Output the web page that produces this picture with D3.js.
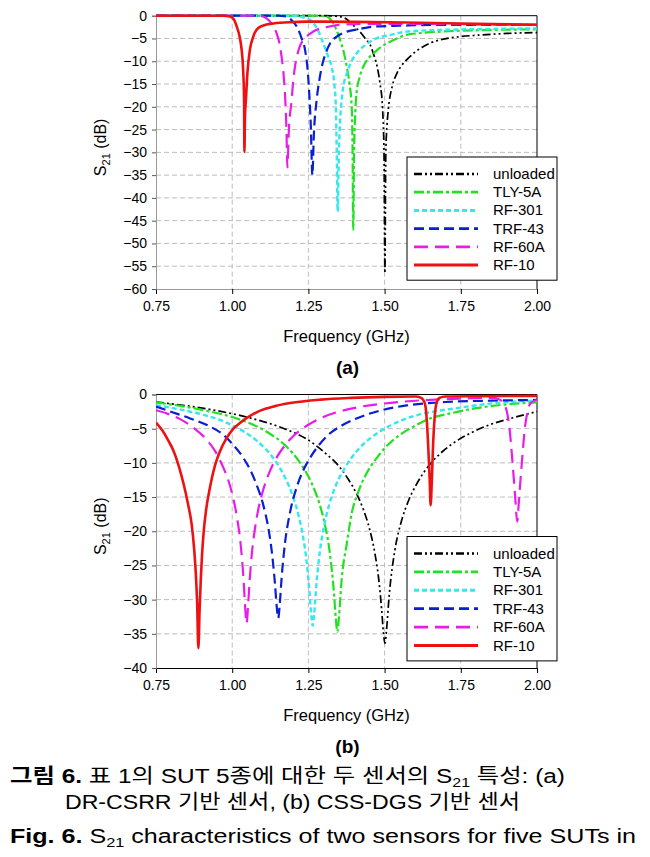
<!DOCTYPE html>
<html>
<head>
<meta charset="utf-8">
<script src="https://cdn.jsdelivr.net/npm/d3@7"></script>
<style>
  html, body { margin: 0; padding: 0; background: #fff; }
  svg { display: block; }
  text { font-family: "Liberation Sans", Arial, "Noto Sans CJK KR", sans-serif; }
</style>
</head>
<body>
<svg id="chart" width="650" height="857"></svg>
<script>
// ---------------- DATA ----------------
const seriesNames = ["unloaded", "TLY-5A", "RF-301", "TRF-43", "RF-60A", "RF-10"];
const xTicks = [0.75, 1.00, 1.25, 1.50, 1.75, 2.00];
const yTicksA = [0, -5, -10, -15, -20, -25, -30, -35, -40, -45, -50, -55, -60];
const yTicksB = [0, -5, -10, -15, -20, -25, -30, -35, -40];

// (a) DR-CSRR sensor: [frequency GHz, S21 dB]
const unloadedA = [[0.75,0],[1.30,0],[1.354,-0.2],[1.38,-1.0],[1.40,-2.3],[1.419,-3.5],[1.44,-5.3],[1.452,-6.3],[1.463,-8.3],[1.475,-11],[1.485,-14.9],[1.493,-20],[1.498,-30],[1.501,-56.5],[1.504,-30],[1.508,-24],[1.512,-20.7],[1.525,-15.5],[1.540,-12.7],[1.555,-11],[1.572,-9.7],[1.60,-8.0],[1.626,-6.8],[1.65,-6.0],[1.682,-5.3],[1.747,-4.6],[1.80,-4.3],[1.90,-3.9],[2.0,-3.7]];
const tlyA = [[0.75,0],[1.28,0],[1.31,-0.2],[1.33,-1.5],[1.354,-5.3],[1.366,-8],[1.376,-11.2],[1.385,-15],[1.392,-20],[1.395,-30],[1.397,-47],[1.400,-30],[1.404,-21],[1.408,-17],[1.418,-13.5],[1.43,-11.2],[1.445,-9.5],[1.463,-8.3],[1.485,-7],[1.507,-6.1],[1.54,-5],[1.572,-4.2],[1.62,-3.8],[1.682,-3.5],[1.8,-3.2],[2.0,-3.0]];
const rf301A = [[0.75,0],[1.20,0],[1.23,-0.3],[1.255,-0.9],[1.28,-3],[1.299,-6.1],[1.315,-9],[1.326,-11.2],[1.335,-15],[1.34,-20],[1.343,-30],[1.346,-43],[1.350,-30],[1.355,-22],[1.359,-18.5],[1.366,-15],[1.376,-12.7],[1.39,-10.2],[1.408,-8.3],[1.435,-6.5],[1.463,-5.3],[1.52,-4.2],[1.572,-3.5],[1.7,-3.1],[2.0,-2.8]];
const trf43A = [[0.75,0],[1.15,0],[1.179,-0.2],[1.195,-1],[1.212,-2.4],[1.228,-5],[1.239,-7.5],[1.25,-14.1],[1.258,-24.4],[1.263,-35],[1.268,-26],[1.277,-18.5],[1.285,-14.5],[1.294,-11.2],[1.307,-8.2],[1.321,-6.1],[1.345,-4.5],[1.376,-3.5],[1.42,-2.9],[1.463,-2.4],[1.55,-2.2],[1.682,-2.0],[2.0,-2.0]];
const rf60A = [[0.75,0],[1.09,0],[1.113,-0.6],[1.13,-1.8],[1.146,-3.9],[1.155,-6],[1.162,-9],[1.168,-12.5],[1.173,-17],[1.178,-25],[1.181,-33.3],[1.186,-25],[1.195,-18.5],[1.2,-14.5],[1.206,-11.2],[1.218,-7.5],[1.233,-5.3],[1.255,-4],[1.277,-3.1],[1.31,-2.5],[1.354,-2.0],[1.45,-1.8],[1.572,-1.8],[1.8,-1.9],[2.0,-2.0]];
const rf10A = [[0.75,0],[0.97,0],[0.993,-0.2],[1.005,-0.8],[1.015,-2.4],[1.024,-4.5],[1.031,-7.5],[1.036,-12],[1.039,-18.5],[1.040,-29.9],[1.042,-22],[1.045,-18.5],[1.05,-12.5],[1.058,-7.5],[1.068,-4.8],[1.08,-3.1],[1.1,-2.2],[1.135,-1.7],[1.2,-1.4],[1.244,-1.3],[1.4,-1.35],[1.572,-1.5],[1.8,-1.8],[2.0,-2.0]];

// (b) CSS-DGS sensor: [frequency GHz, S21 dB]
const unloadedB = [[0.75,-1.1],[0.916,-2.1],[1.058,-3.42],[1.171,-5.0],[1.244,-6.5],[1.301,-8.4],[1.354,-10.7],[1.381,-12.4],[1.408,-14.5],[1.431,-16.9],[1.452,-19.9],[1.468,-23.2],[1.481,-27.1],[1.49,-31.3],[1.496,-34.7],[1.501,-36.4],[1.506,-34.6],[1.515,-29.4],[1.534,-22.7],[1.556,-18.4],[1.576,-15.8],[1.605,-13.1],[1.649,-10.2],[1.691,-8.3],[1.736,-6.8],[1.791,-5.44],[1.846,-4.4],[1.921,-3.4],[2.0,-2.5]];
const tlyB = [[0.75,-1.15],[0.925,-2.47],[1.026,-3.67],[1.115,-5.5],[1.175,-7.5],[1.222,-9.95],[1.26,-12.9],[1.285,-15.8],[1.305,-19.2],[1.321,-23.4],[1.334,-29.1],[1.34,-32.8],[1.345,-34.7],[1.35,-32.7],[1.359,-27.1],[1.376,-21.8],[1.392,-17.4],[1.414,-14.2],[1.44,-11.6],[1.474,-9.3],[1.51,-7.4],[1.55,-5.9],[1.595,-4.7],[1.649,-3.5],[1.715,-2.77],[1.8,-2.0],[1.895,-1.47],[2.0,-1.15]];
const rf301B = [[0.75,-1.55],[0.834,-2.24],[0.916,-3.1],[0.964,-3.8],[1.026,-5.1],[1.084,-6.9],[1.135,-9.3],[1.174,-12.2],[1.2,-15.0],[1.219,-17.9],[1.233,-20.9],[1.244,-24.4],[1.253,-28.6],[1.259,-32.1],[1.264,-33.8],[1.269,-32.0],[1.277,-27.4],[1.288,-22.8],[1.302,-19.1],[1.319,-16.0],[1.339,-13.4],[1.37,-10.7],[1.414,-8.0],[1.463,-6.05],[1.514,-4.65],[1.572,-3.5],[1.644,-2.63],[1.736,-2.0],[1.864,-1.25],[2.0,-0.9]];
const trf43B = [[0.75,-1.75],[0.801,-2.55],[0.862,-3.5],[0.921,-4.55],[0.971,-5.9],[1.006,-7.5],[1.037,-9.3],[1.061,-11.2],[1.08,-13.2],[1.101,-16.0],[1.118,-19.4],[1.13,-23.0],[1.14,-27.5],[1.146,-31.0],[1.151,-32.7],[1.156,-30.7],[1.162,-26.9],[1.173,-21.8],[1.19,-17.2],[1.212,-13.5],[1.231,-11.3],[1.255,-9.3],[1.281,-7.6],[1.315,-5.9],[1.361,-4.5],[1.408,-3.5],[1.481,-2.4],[1.572,-1.6],[1.7,-1.1],[1.85,-0.9],[2.0,-0.8]];
const rf60B = [[0.75,-2.3],[0.787,-2.8],[0.829,-3.6],[0.877,-5.0],[0.916,-6.6],[0.947,-8.5],[0.971,-10.7],[0.987,-12.5],[1.004,-15.3],[1.017,-18.3],[1.026,-21.2],[1.037,-26.9],[1.042,-30.7],[1.047,-33.5],[1.052,-31.0],[1.057,-27.4],[1.064,-23.5],[1.075,-19.5],[1.087,-16.5],[1.102,-13.9],[1.122,-11.4],[1.146,-9.2],[1.172,-7.5],[1.2,-6.1],[1.247,-4.5],[1.288,-3.5],[1.347,-2.55],[1.408,-1.9],[1.497,-1.32],[1.627,-0.84],[1.747,-0.6],[1.85,-0.5],[1.875,-0.7],[1.89,-1.3],[1.901,-2.5],[1.91,-5.0],[1.918,-9.0],[1.925,-13.0],[1.93,-16.0],[1.935,-18.6],[1.94,-16.0],[1.945,-13.0],[1.952,-9.0],[1.96,-5.0],[1.969,-2.5],[1.98,-1.2],[2.0,-0.8]];
const rf10B = [[0.75,-4.1],[0.77,-5.2],[0.79,-6.7],[0.807,-8.2],[0.825,-10.5],[0.839,-12.8],[0.855,-16.0],[0.867,-19.0],[0.875,-22.5],[0.881,-26.5],[0.885,-30.5],[0.889,-37.1],[0.893,-31.5],[0.897,-27.0],[0.901,-23.5],[0.906,-20.3],[0.914,-17.0],[0.927,-13.6],[0.944,-10.3],[0.96,-8.3],[0.98,-6.5],[1.004,-5.0],[1.03,-4.0],[1.06,-3.1],[1.09,-2.4],[1.14,-1.7],[1.19,-1.25],[1.29,-0.75],[1.39,-0.5],[1.5,-0.35],[1.6,-0.3],[1.62,-0.5],[1.632,-1.3],[1.638,-3.5],[1.643,-7.5],[1.648,-12.5],[1.651,-16.2],[1.655,-12.5],[1.659,-7.5],[1.664,-3.5],[1.67,-1.3],[1.68,-0.5],[1.70,-0.3],[1.8,-0.25],[2.0,-0.2]];

const seriesA = [unloadedA, tlyA, rf301A, trf43A, rf60A, rf10A];
const seriesB = [unloadedB, tlyB, rf301B, trf43B, rf60B, rf10B];

// ---------------- STYLES ----------------
const colors = ["#000000", "#22e022", "#33e8ee", "#0a1ed2", "#e81ee8", "#ee1111"];
const dashes = ["8,3,2,3,2,3", "10,3,3,3", "5,3", "10,5", "14,7", null];
const widths = [1.7, 2.2, 2.4, 2.2, 2.2, 2.6];

const svg = d3.select("#chart");
svg.append("rect").attr("width", 650).attr("height", 857).attr("fill", "#fff");

function drawPanel(opt) {
  const { data, yMin, yTicks, top, bottom, label, legendTop, legendStep } = opt;
  const left = 156, right = 537;
  const x = d3.scaleLinear().domain([0.75, 2.0]).range([left, right]);
  const y = d3.scaleLinear().domain([yMin, 0]).range([bottom, top]);
  const g = svg.append("g");

  // gridlines
  g.append("g").selectAll("line").data(yTicks.filter(v => v !== 0 && v !== yMin)).join("line")
    .attr("x1", left).attr("x2", right).attr("y1", d => y(d)).attr("y2", d => y(d))
    .attr("stroke", "#bdbdbd").attr("stroke-width", 1).attr("stroke-dasharray", "5,3");
  g.append("g").selectAll("line").data(xTicks.filter(v => v !== 0.75 && v !== 2.0)).join("line")
    .attr("y1", top).attr("y2", bottom).attr("x1", d => x(d)).attr("x2", d => x(d))
    .attr("stroke", "#bdbdbd").attr("stroke-width", 1).attr("stroke-dasharray", "5,3");

  // top & right border
  g.append("line").attr("x1", left).attr("x2", right).attr("y1", top).attr("y2", top).attr("stroke", "#000");
  g.append("line").attr("x1", right).attr("x2", right).attr("y1", top).attr("y2", bottom).attr("stroke", "#000");

  // axes
  const xAxis = d3.axisBottom(x).tickValues(xTicks).tickFormat(d3.format(".2f")).tickSize(5).tickPadding(7);
  const gx = g.append("g").attr("transform", `translate(0,${bottom})`).call(xAxis);
  gx.select(".domain").attr("stroke", opt.bottomAxisColor);
  gx.selectAll(".tick line").attr("stroke", "#000");
  gx.selectAll("text").attr("font-size", 14).attr("fill", "#000")
    .attr("font-family", "Liberation Sans, Arial, sans-serif");

  const yAxis = d3.axisLeft(y).tickValues(yTicks).tickFormat(d3.format("d")).tickSize(4).tickPadding(5);
  const gy = g.append("g").attr("transform", `translate(${left},0)`).call(yAxis);
  gy.select(".domain").attr("stroke", "#999");
  gy.selectAll(".tick line").attr("stroke", "#555");
  gy.selectAll("text").attr("font-size", 14).attr("fill", "#000")
    .attr("font-family", "Liberation Sans, Arial, sans-serif");

  // clip
  const clipId = "clip" + label.replace(/\W/g, "");
  svg.append("defs").append("clipPath").attr("id", clipId)
    .append("rect").attr("x", left).attr("y", top - 2).attr("width", right - left).attr("height", bottom - top + 4);

  const line = d3.line().x(d => x(d[0])).y(d => y(d[1])).curve(d3.curveMonotoneX);
  const lg = g.append("g").attr("clip-path", `url(#${clipId})`);
  data.forEach((s, i) => {
    lg.append("path").datum(s).attr("d", line)
      .attr("fill", "none").attr("stroke", colors[i]).attr("stroke-width", widths[i])
      .attr("stroke-dasharray", dashes[i]).attr("stroke-linejoin", "round");
  });

  // axis titles
  g.append("text").attr("x", (left + right) / 2).attr("y", bottom + 53)
    .attr("text-anchor", "middle").attr("font-size", 16.5).text("Frequency (GHz)");
  const yt = g.append("text").attr("transform", `translate(106,${(top + bottom) / 2 - 5}) rotate(-90)`)
    .attr("text-anchor", "middle").attr("font-size", 16);
  yt.append("tspan").text("S");
  yt.append("tspan").attr("font-size", 11).attr("dy", 4).text("21");
  yt.append("tspan").attr("dy", -4).text(" (dB)");

  g.append("text").attr("x", (left + right) / 2 + 1).attr("y", bottom + 85)
    .attr("text-anchor", "middle").attr("font-size", 19).attr("font-weight", "bold").text(label);

  // legend
  const lgx = 407, lgw = 150;
  const lgh = legendStep * 6 + 14;
  const leg = g.append("g");
  leg.append("rect").attr("x", lgx).attr("y", legendTop).attr("width", lgw).attr("height", lgh)
    .attr("fill", "#fff").attr("stroke", "#000").attr("stroke-width", 1);
  seriesNames.forEach((n, i) => {
    const cy = legendTop + 17 + i * legendStep;
    leg.append("line").attr("x1", 414).attr("x2", 478).attr("y1", cy).attr("y2", cy)
      .attr("stroke", colors[i]).attr("stroke-width", widths[i] + 0.6).attr("stroke-dasharray", dashes[i]);
    leg.append("text").attr("x", 493).attr("y", cy + 5).attr("font-size", 15).text(n);
  });
}

drawPanel({ data: seriesA, yMin: -60, yTicks: yTicksA, top: 15.7, bottom: 289, label: "(a)",
  legendTop: 157, legendStep: 18.2, bottomAxisColor: "#999" });
drawPanel({ data: seriesB, yMin: -40, yTicks: yTicksB, top: 394.5, bottom: 668, label: "(b)",
  legendTop: 536.5, legendStep: 18.4, bottomAxisColor: "#000" });

// ---------------- CAPTION ----------------
const capFont = "Liberation Sans, Arial, Noto Sans CJK KR, sans-serif";
const c1 = svg.append("text").attr("x", 10).attr("y", 783).attr("font-size", 20)
  .attr("font-family", capFont).attr("textLength", 555).attr("lengthAdjust", "spacingAndGlyphs");
c1.append("tspan").attr("font-weight", "bold").text("그림 6.");
c1.append("tspan").text(" 표 1의 SUT 5종에 대한 두 센서의 S");
c1.append("tspan").attr("font-size", 13).attr("dy", 4).text("21");
c1.append("tspan").attr("dy", -4).text(" 특성: (a)");

svg.append("text").attr("x", 65).attr("y", 809).attr("font-size", 20)
  .attr("font-family", capFont).attr("textLength", 455).attr("lengthAdjust", "spacingAndGlyphs")
  .text("DR-CSRR 기반 센서, (b) CSS-DGS 기반 센서");

const c3 = svg.append("text").attr("x", 10).attr("y", 843).attr("font-size", 20)
  .attr("font-family", capFont).attr("textLength", 626).attr("lengthAdjust", "spacingAndGlyphs");
c3.append("tspan").attr("font-weight", "bold").text("Fig. 6.");
c3.append("tspan").text(" S");
c3.append("tspan").attr("font-size", 13).attr("dy", 4).text("21");
c3.append("tspan").attr("dy", -4).text(" characteristics of two sensors for five SUTs in");
</script>
</body>
</html>
